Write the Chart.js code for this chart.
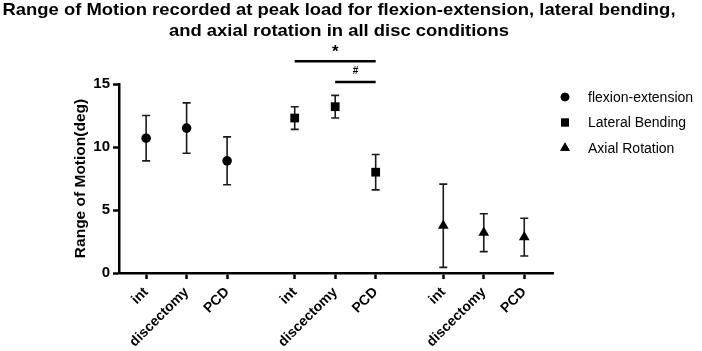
<!DOCTYPE html>
<html>
<head>
<meta charset="utf-8">
<script src="https://cdn.jsdelivr.net/npm/chart.js@4"></script>
<style>
html,body{margin:0;padding:0;background:#fff;}
#wrap{width:702px;height:351px;position:relative;}
</style>
</head>
<body>
<div id="wrap"><canvas id="c" width="702" height="351"></canvas></div>
<script>
// ---- data ----
const titleLines = ['Range of Motion recorded at peak load for flexion-extension, lateral bending,', 'and axial rotation in all disc conditions'];
const categories = ['int', 'discectomy', 'PCD'];
const motionLabels = ['flexion-extension', 'Lateral Bending', 'Axial Rotation'];
const flexMean = [10.7, 11.5, 8.9];
const flexSD   = [1.8, 2.0, 1.9];
const latMean  = [12.3, 13.2, 8.0];
const latSD    = [0.9, 0.9, 1.4];
const axMean   = [3.75, 3.2, 2.85];
const axSD     = [3.3, 1.5, 1.5];
const yTicks   = [0, 5, 10, 15];
// significance brackets: [fromIndex, toIndex, level(deg), symbol] (indices into all 9 points)
const sigFrom  = [3, 4];
const sigTo    = [5, 5];
const sigLevel = [16.8, 15.15];
const sigText  = ['*', '#'];

const means = [flexMean, latMean, axMean];
const sds = [flexSD, latSD, axSD];
const groupGap = 0.67;
const xOf = (g, i) => g * (categories.length + groupGap) + i;
const allX = [];
for (let g = 0; g < means.length; g++) for (let i = 0; i < categories.length; i++) allX.push(xOf(g, i));

const styles = ['circle', 'rect', 'triangle'];
const radii = [4.8, 6.2, 6.2];
const FONT = "'Liberation Sans', Arial, sans-serif";

const datasets = means.map((m, g) => ({
  label: motionLabels[g],
  data: m.map((v, i) => ({x: xOf(g, i), y: v})),
  pointStyle: styles[g],
  pointRadius: radii[g],
  pointHoverRadius: radii[g],
  backgroundColor: '#000',
  borderColor: '#000',
  borderWidth: 0,
  showLine: false
}));

const errorBars = {
  id: 'errorBars',
  beforeDatasetsDraw(chart) {
    const ctx = chart.ctx, xs = chart.scales.x, ys = chart.scales.y;
    ctx.save();
    ctx.strokeStyle = '#1a1a1a';
    ctx.lineWidth = 1.6;
    means.forEach((m, g) => m.forEach((v, i) => {
      const px = xs.getPixelForValue(xOf(g, i));
      const t = ys.getPixelForValue(v + sds[g][i]);
      const b = ys.getPixelForValue(v - sds[g][i]);
      ctx.beginPath();
      ctx.moveTo(px, t); ctx.lineTo(px, b);
      ctx.moveTo(px - 4, t); ctx.lineTo(px + 4, t);
      ctx.moveTo(px - 4, b); ctx.lineTo(px + 4, b);
      ctx.stroke();
    }));
    ctx.restore();
  }
};

const extras = {
  id: 'extras',
  afterDraw(chart) {
    const ctx = chart.ctx, xs = chart.scales.x, ys = chart.scales.y, ca = chart.chartArea;
    ctx.save();
    // title (slightly stretched horizontally to match the original's letterforms)
    ctx.fillStyle = '#000';
    ctx.textAlign = 'center';
    ctx.textBaseline = 'alphabetic';
    ctx.font = "bold 17px 'Liberation Sans', Arial, sans-serif";
    const w0 = ctx.measureText(titleLines[0]).width;
    const sx = 673 / w0;
    titleLines.forEach((t, k) => {
      ctx.save();
      ctx.translate(339, 15 + k * 20.5);
      ctx.scale(sx, 1);
      ctx.fillText(t, 0, 0);
      ctx.restore();
    });
    // significance brackets
    ctx.textBaseline = 'middle';
    ctx.strokeStyle = '#000';
    ctx.lineWidth = 2.5;
    sigFrom.forEach((f, k) => {
      const x1 = xs.getPixelForValue(allX[f]);
      const x2 = xs.getPixelForValue(allX[sigTo[k]]);
      const y = ys.getPixelForValue(sigLevel[k]);
      ctx.beginPath(); ctx.moveTo(x1, y); ctx.lineTo(x2, y); ctx.stroke();
      ctx.font = sigText[k] === '*' ? 'bold 17px ' + FONT : 'bold 10px ' + FONT;
      ctx.fillText(sigText[k], (x1 + x2) / 2, y - (sigText[k] === '*' ? 9 : 11));
    });
    // legend
    ctx.textAlign = 'left';
    ctx.font = '14px ' + FONT;
    motionLabels.forEach((lab, g) => {
      const ly = ca.top + 13 + g * 25.5;
      const lx = ca.right + 12;
      ctx.fillStyle = '#000';
      Chart.helpers.drawPoint(ctx, {pointStyle: styles[g], radius: radii[g] * 0.9, borderWidth: 0}, lx, ly);
      ctx.fill();
      ctx.fillText(lab, ca.right + 35, ly + 1);
    });
    ctx.restore();
  }
};

new Chart(document.getElementById('c'), {
  type: 'scatter',
  data: {datasets},
  options: {
    responsive: false,
    animation: false,
    events: [],
    layout: {padding: {top: 84, right: 149, left: 0, bottom: 0}},
    plugins: {legend: {display: false}, title: {display: false}, tooltip: {enabled: false}},
    scales: {
      x: {
        type: 'linear',
        min: -0.67,
        max: 10.05,
        afterBuildTicks: s => { s.ticks = allX.map(v => ({value: v})); },
        afterFit: s => { s.height = 78; },
        ticks: {
          autoSkip: false,
          minRotation: 45,
          maxRotation: 45,
          padding: 5,
          color: '#000',
          font: {family: FONT, weight: 'bold', size: 14},
          callback: (v, i) => categories[i % categories.length]
        },
        grid: {display: true, drawOnChartArea: false, drawTicks: true, tickLength: 6, tickWidth: 2.5, color: '#000'},
        border: {display: true, width: 2.5, color: '#000'}
      },
      y: {
        min: 0,
        max: 15,
        afterBuildTicks: s => { s.ticks = yTicks.map(v => ({value: v})); },
        afterFit: s => { s.width = 119; },
        ticks: {
          padding: 3,
          color: '#000',
          font: {family: FONT, weight: 'bold', size: 15}
        },
        title: {display: true, text: 'Range of Motion(deg)', color: '#000', font: {family: FONT, weight: 'bold', size: 15.5}, padding: {top: 71, bottom: 0}},
        grid: {display: true, drawOnChartArea: false, drawTicks: true, tickLength: 6, tickWidth: 2.5, color: '#000'},
        border: {display: true, width: 2.5, color: '#000'}
      }
    }
  },
  plugins: [errorBars, extras]
});
</script>
</body>
</html>
